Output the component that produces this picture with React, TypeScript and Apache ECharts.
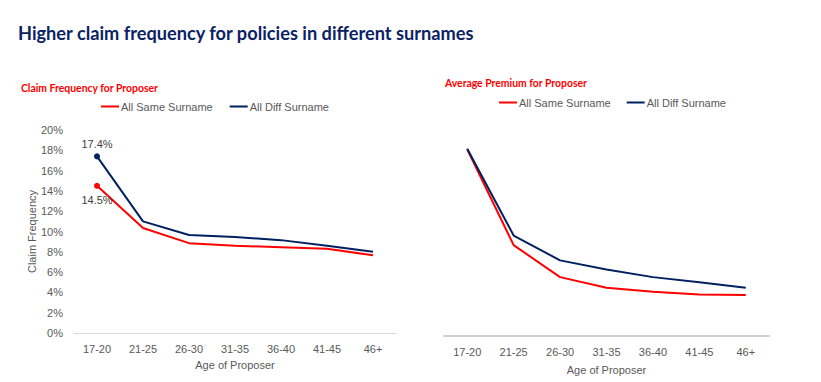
import React, { useEffect, useRef } from "react";
import * as echarts from "echarts";

const categories = ["17-20", "21-25", "26-30", "31-35", "36-40", "41-45", "46+"];
const freqSame = [14.5, 10.35, 8.85, 8.6, 8.45, 8.3, 7.65];
const freqDiff = [17.4, 11.0, 9.65, 9.45, 9.15, 8.6, 8.0];
const premSame = [1840, 895, 580, 475, 435, 410, 405];
const premDiff = [1845, 990, 745, 655, 580, 530, 475];
const yTicksMax = 20;
const yTicksStep = 2;

const RED = "#ff0000";
const NAVY = "#002060";
const GRAY = "#595959";
const FONT = "Liberation Sans";

function firstLabeled(vals: number[], pos: string) {
  return vals.map((v, i) =>
    i === 0
      ? {
          value: v,
          symbol: "circle",
          symbolSize: 6,
          label: {
            show: true,
            position: pos,
            distance: pos === "top" ? 4 : 6,
            formatter: (p: any) => p.value.toFixed(1) + "%",
            color: "#404040",
            fontSize: 11,
            fontFamily: FONT,
          },
        }
      : { value: v, symbol: "none" }
  );
}

export default function App() {
  const ref = useRef<HTMLDivElement>(null);
  useEffect(() => {
    const chart = echarts.init(ref.current!, null, { renderer: "svg" });
    const axisLabel = { color: GRAY, fontSize: 11, fontFamily: FONT, margin: 10 };
    const legendText = { color: GRAY, fontSize: 11, fontFamily: FONT, padding: [0, 0, 0, -3] };
    chart.setOption({
      animation: false,
      backgroundColor: "#ffffff",
      title: [
        {
          text: "Higher claim frequency for policies in different surnames",
          left: 18,
          top: 24,
          padding: 0,
          textStyle: { color: "#0b2265", fontSize: 18.2, fontWeight: "bold", fontFamily: "Lato" },
        },
        {
          text: "Claim Frequency for Proposer",
          left: 21,
          top: 83,
          padding: 0,
          textStyle: { color: RED, fontSize: 10.4, fontWeight: "bold", fontFamily: "Lato" },
        },
        {
          text: "Average Premium for Proposer",
          left: 445,
          top: 78,
          padding: 0,
          textStyle: { color: RED, fontSize: 10.4, fontWeight: "bold", fontFamily: "Lato" },
        },
      ],
      legend: [
        {
          left: 101,
          top: 101,
          padding: 0,
          icon: "rect",
          itemWidth: 18,
          itemHeight: 2,
          itemGap: 17,
          textStyle: legendText,
          data: ["All Same Surname", "All Diff Surname"],
        },
        {
          left: 499,
          top: 97,
          padding: 0,
          icon: "rect",
          itemWidth: 18,
          itemHeight: 2,
          itemGap: 16,
          textStyle: legendText,
          data: ["All Same Surname", "All Diff Surname"],
        },
      ],
      grid: [
        { left: 74, top: 130, width: 322, height: 203 },
        { left: 444, top: 133, width: 325, height: 203 },
      ],
      xAxis: [
        {
          gridIndex: 0,
          type: "category",
          data: categories,
          boundaryGap: true,
          axisLine: { lineStyle: { color: "#d9d9d9", width: 1 } },
          axisTick: { show: false },
          axisLabel,
          name: "Age of Proposer",
          nameLocation: "middle",
          nameGap: 26,
          nameTextStyle: { color: GRAY, fontSize: 11, fontFamily: FONT },
        },
        {
          gridIndex: 1,
          type: "category",
          data: categories,
          boundaryGap: true,
          axisLine: { lineStyle: { color: "#cdd0cd", width: 2 } },
          axisTick: { show: false },
          axisLabel,
          name: "Age of Proposer",
          nameLocation: "middle",
          nameGap: 28,
          nameTextStyle: { color: GRAY, fontSize: 11, fontFamily: FONT },
        },
      ],
      yAxis: [
        {
          gridIndex: 0,
          type: "value",
          min: 0,
          max: yTicksMax,
          interval: yTicksStep,
          axisLine: { show: false },
          axisTick: { show: false },
          splitLine: { show: false },
          axisLabel: { ...axisLabel, formatter: "{value}%", margin: 11 },
          name: "Claim Frequency",
          nameLocation: "middle",
          nameGap: 30,
          nameTextStyle: { color: GRAY, fontSize: 11, fontFamily: FONT },
        },
        {
          gridIndex: 1,
          type: "value",
          min: 0,
          max: 2000,
          show: false,
          splitLine: { show: false },
        },
      ],
      series: [
        {
          name: "All Same Surname",
          type: "line",
          xAxisIndex: 0,
          yAxisIndex: 0,
          data: firstLabeled(freqSame, "bottom"),
          lineStyle: { color: RED, width: 2 },
          itemStyle: { color: RED },
          color: RED,
          z: 3,
        },
        {
          name: "All Diff Surname",
          type: "line",
          xAxisIndex: 0,
          yAxisIndex: 0,
          data: firstLabeled(freqDiff, "top"),
          lineStyle: { color: NAVY, width: 2 },
          itemStyle: { color: NAVY },
          color: NAVY,
          z: 2,
        },
        {
          name: "All Same Surname",
          type: "line",
          xAxisIndex: 1,
          yAxisIndex: 1,
          data: premSame,
          symbol: "none",
          lineStyle: { color: RED, width: 2 },
          itemStyle: { color: RED },
          color: RED,
          z: 2,
        },
        {
          name: "All Diff Surname",
          type: "line",
          xAxisIndex: 1,
          yAxisIndex: 1,
          data: premDiff,
          symbol: "none",
          lineStyle: { color: NAVY, width: 2 },
          itemStyle: { color: NAVY },
          color: NAVY,
          z: 3,
        },
      ],
    });
    return () => chart.dispose();
  }, []);
  return (
    <div
      ref={ref}
      style={{ position: "fixed", left: 0, top: 0, width: 821, height: 382 }}
    />
  );
}
